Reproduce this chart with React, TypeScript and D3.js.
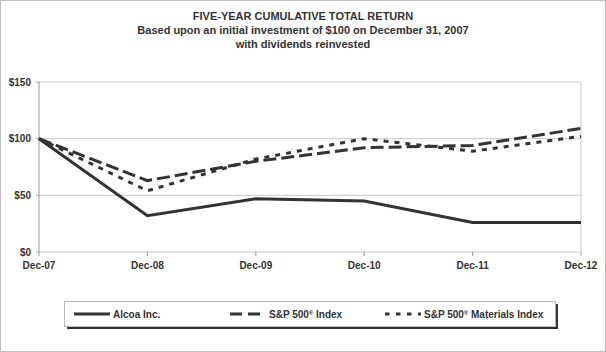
import React from "react";
import * as d3 from "d3";

const categories = ["Dec-07", "Dec-08", "Dec-09", "Dec-10", "Dec-11", "Dec-12"];
const alcoa = [100, 32, 47, 45, 26, 26];
const sp500 = [100, 63, 80, 92, 94, 109];
const spMaterials = [100, 54, 82, 100, 89, 102];
const yTicks = [0, 50, 100, 150];

const W = 606, H = 352;
const left = 39, right = 581, top = 82, bottom = 252;

export default function App() {
  const x = d3.scalePoint<string>().domain(categories).range([left, right]);
  const y = d3.scaleLinear().domain([0, 150]).range([bottom, top]);
  const line = d3.line<number>().x((_, i) => x(categories[i]) as number).y((d) => y(d));
  const font = "'Liberation Sans', Arial, sans-serif";
  const series = [
    { name: "Alcoa Inc.", data: alcoa, dash: "none", legendDash: "none", sup: false, rest: "" },
    { name: "S&P 500", data: sp500, dash: "13,5", legendDash: "12,6", sup: true, rest: " Index" },
    { name: "S&P 500", data: spMaterials, dash: "5,6", legendDash: "4.5,6.5", sup: true, rest: " Materials Index" },
  ];
  const legendX = [74, 230, 385];
  return (
    <svg width={W} height={H} style={{ position: "absolute", left: 0, top: 0 }} fontFamily={font}>
      <rect x={0.5} y={0.5} width={W - 1} height={H - 1} fill="#fff" stroke="#c0c0c0" />
      <g fontWeight="bold" fontSize={11} fill="#333" textAnchor="middle">
        <text x={303} y={20}>FIVE-YEAR CUMULATIVE TOTAL RETURN</text>
        <text x={303} y={34}>Based upon an initial investment of $100 on December 31, 2007</text>
        <text x={303} y={48}>with dividends reinvested</text>
      </g>
      {yTicks.map((t) => (
        <g key={t}>
          <line x1={left} x2={right} y1={y(t)} y2={y(t)} stroke="#c8c8c8" />
          <line x1={left - 3} x2={left} y1={y(t)} y2={y(t)} stroke="#999" />
          <text x={31} y={y(t) + 3.5} textAnchor="end" fontSize={10} fontWeight="bold" fill="#333">${t}</text>
        </g>
      ))}
      <line x1={left} x2={left} y1={top} y2={bottom} stroke="#999" />
      <line x1={right} x2={right} y1={top} y2={bottom} stroke="#c8c8c8" />
      {categories.map((c) => (
        <g key={c}>
          <line x1={x(c)} x2={x(c)} y1={bottom} y2={bottom + 4} stroke="#999" />
          <text x={x(c)} y={269} textAnchor="middle" fontSize={10} fontWeight="bold" fill="#333">{c}</text>
        </g>
      ))}
      {series.map((s, i) => (
        <path key={i} d={line(s.data) || ""} fill="none" stroke="#333" strokeWidth={3} strokeDasharray={s.dash} />
      ))}
      <rect x={67} y={304} width={491} height={25} fill="#333" />
      <rect x={64.5} y={301.5} width={491} height={25} fill="#fff" stroke="#bbb" />
      {series.map((s, i) => (
        <g key={i}>
          <line x1={legendX[i]} x2={legendX[i] + 36} y1={314} y2={314} stroke="#333" strokeWidth={3} strokeDasharray={s.legendDash} />
          <text x={legendX[i] + 39} y={318} fontSize={10} fontWeight="bold" fill="#333">
            {s.name}
            {s.sup && <tspan fontSize={6} dy={-3}>®</tspan>}
            {s.sup && <tspan dy={3}>{s.rest}</tspan>}
          </text>
        </g>
      ))}
    </svg>
  );
}
